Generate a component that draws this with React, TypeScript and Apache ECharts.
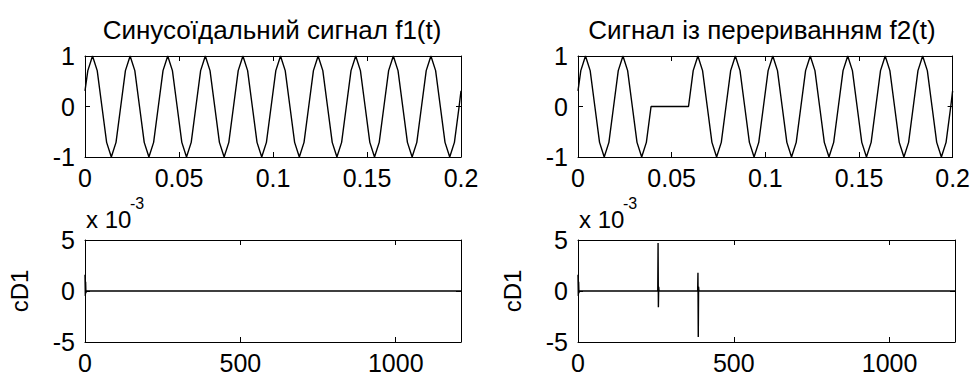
import React, { useEffect, useRef } from "react";
import * as echarts from "echarts";

// Time axis (s) of the two signals
const timeAxis = [
  0, 0.0015,
  0.004, 0.0065, 0.009, 0.0115, 0.014, 0.0165, 0.019, 0.0215,
  0.024, 0.0265, 0.029, 0.0315, 0.034, 0.0365, 0.039, 0.0415,
  0.044, 0.0465, 0.049, 0.0515, 0.054, 0.0565, 0.059, 0.0615,
  0.064, 0.0665, 0.069, 0.0715, 0.074, 0.0765, 0.079, 0.0815,
  0.084, 0.0865, 0.089, 0.0915, 0.094, 0.0965, 0.099, 0.1015,
  0.104, 0.1065, 0.109, 0.1115, 0.114, 0.1165, 0.119, 0.1215,
  0.124, 0.1265, 0.129, 0.1315, 0.134, 0.1365, 0.139, 0.1415,
  0.144, 0.1465, 0.149, 0.1515, 0.154, 0.1565, 0.159, 0.1615,
  0.164, 0.1665, 0.169, 0.1715, 0.174, 0.1765, 0.179, 0.1815,
  0.184, 0.1865, 0.189, 0.1915, 0.194, 0.1965, 0.199, 0.2,
];

// f1(t): sinusoidal signal
const sineF1 = [
  0.31, 0.71,
  1, 0.71, 0, -0.71, -1, -0.71, 0, 0.71,
  1, 0.71, 0, -0.71, -1, -0.71, 0, 0.71,
  1, 0.71, 0, -0.71, -1, -0.71, 0, 0.71,
  1, 0.71, 0, -0.71, -1, -0.71, 0, 0.71,
  1, 0.71, 0, -0.71, -1, -0.71, 0, 0.71,
  1, 0.71, 0, -0.71, -1, -0.71, 0, 0.71,
  1, 0.71, 0, -0.71, -1, -0.71, 0, 0.71,
  1, 0.71, 0, -0.71, -1, -0.71, 0, 0.71,
  1, 0.71, 0, -0.71, -1, -0.71, 0, 0.71,
  1, 0.71, 0, -0.71, -1, -0.71, 0, 0.31,
];

// f2(t): signal with an interruption (flat between ~0.04 and ~0.06 s)
const breakF2 = [
  0.31, 0.71,
  1, 0.71, 0, -0.71, -1, -0.71, 0, 0.71,
  1, 0.71, 0, -0.71, -1, -0.71, 0, 0,
  0, 0, 0, 0, 0, 0, 0, 0.71,
  1, 0.71, 0, -0.71, -1, -0.71, 0, 0.71,
  1, 0.71, 0, -0.71, -1, -0.71, 0, 0.71,
  1, 0.71, 0, -0.71, -1, -0.71, 0, 0.71,
  1, 0.71, 0, -0.71, -1, -0.71, 0, 0.71,
  1, 0.71, 0, -0.71, -1, -0.71, 0, 0.71,
  1, 0.71, 0, -0.71, -1, -0.71, 0, 0.71,
  1, 0.71, 0, -0.71, -1, -0.71, 0, 0.31,
];

// Detail coefficients cD1 (index, value)
const cd1F1Index = [0, 1, 2, 3, 4, 1210];
const cd1F1Values = [0.0016, -0.0005, 0.0009, -0.0002, 0, 0];
const cd1F2Index = [0, 1, 2, 3, 4, 256, 257, 258, 259, 260, 384, 385, 386, 387, 388, 1210];
const cd1F2Values = [
  0.0016, -0.0005, 0.0009, -0.0002, 0,
  0, 0.0047, -0.0016, 0.0004, 0,
  0, 0.0018, -0.0045, 0.0004, 0,
  0,
];

const titles = ["Синусоїдальний сигнал f1(t)", "Сигнал із перериванням f2(t)"];
const yName = "cD1";
const scaleBase = "x 10";
const scaleExp = "-3";

export default function App() {
  const ref = useRef<HTMLDivElement>(null);

  useEffect(() => {
    if (!ref.current) return;
    const chart = echarts.init(ref.current, null, { renderer: "svg" });
    const FONT = "'Liberation Sans', Arial, sans-serif";
    const grids = [
      { left: 85, top: 56, width: 376, height: 101 },
      { left: 578, top: 56, width: 377, height: 101 },
      { left: 85, top: 240, width: 376, height: 103 },
      { left: 578, top: 240, width: 377, height: 103 },
    ];
    const lineStyle = { color: "#000", width: 1 };
    const tick = { show: true, inside: true, length: 5, lineStyle: { color: "#000", width: 1 } };
    const xAxes: any[] = [];
    const yAxes: any[] = [];
    grids.forEach((g, i) => {
      const isTop = i < 2;
      const xBase = isTop ? { min: 0, max: 0.2, interval: 0.05 } : { min: 0, max: 1210, interval: 500 };
      const yBase = isTop ? { min: -1, max: 1, interval: 1 } : { min: -0.005, max: 0.005, interval: 0.005 };
      xAxes.push({
        type: "value", gridIndex: i, position: "bottom", ...xBase,
        axisLine: { show: true, onZero: false, lineStyle },
        axisTick: tick, splitLine: { show: false },
        axisLabel: {
          fontSize: 25, color: "#000", fontFamily: FONT, margin: 8,
          showMaxLabel: isTop ? true : false, showMinLabel: true,
          formatter: (v: number) => String(v),
        },
      });
      xAxes.push({
        type: "value", gridIndex: i, position: "top", ...xBase,
        axisLine: { show: true, onZero: false, lineStyle },
        axisTick: tick, splitLine: { show: false }, axisLabel: { show: false },
      });
      yAxes.push({
        type: "value", gridIndex: i, position: "left", ...yBase,
        axisLine: { show: true, onZero: false, lineStyle },
        axisTick: tick, splitLine: { show: false },
        axisLabel: {
          fontSize: 25, color: "#000", fontFamily: FONT, margin: 10,
          showMinLabel: true, showMaxLabel: true,
          formatter: isTop ? (v: number) => String(v) : (v: number) => String(Math.round(v * 1000)),
        },
        name: isTop ? "" : yName,
        nameLocation: "middle", nameGap: 54, nameRotate: 90,
        nameTextStyle: { fontSize: 24, color: "#000", fontFamily: FONT },
      });
      yAxes.push({
        type: "value", gridIndex: i, position: "right", ...yBase,
        axisLine: { show: true, onZero: false, lineStyle },
        axisTick: tick, splitLine: { show: false }, axisLabel: { show: false },
      });
    });

    const seriesLine = { color: "#000", width: 1.4 };
    const mk = (xs: number[], ys: number[]) => xs.map((x, k) => [x, ys[k]]);
    const txt = (text: string, x: number, y: number, size: number, align: string) => ({
      type: "text", x, y, silent: true,
      style: {
        text, fill: "#000", fontSize: size, fontFamily: FONT,
        font: `${size}px ${FONT}`,
        align, textAlign: align, verticalAlign: "middle", textVerticalAlign: "middle",
      },
    });

    chart.setOption({
      animation: false,
      backgroundColor: "#fff",
      grid: grids.map((g) => ({ ...g, containLabel: false })),
      xAxis: xAxes,
      yAxis: yAxes,
      series: [
        { type: "line", xAxisIndex: 0, yAxisIndex: 0, data: mk(timeAxis, sineF1), showSymbol: false, lineStyle: seriesLine, silent: true },
        { type: "line", xAxisIndex: 2, yAxisIndex: 2, data: mk(timeAxis, breakF2), showSymbol: false, lineStyle: seriesLine, silent: true },
        { type: "line", xAxisIndex: 4, yAxisIndex: 4, data: mk(cd1F1Index, cd1F1Values), showSymbol: false, lineStyle: seriesLine, silent: true },
        { type: "line", xAxisIndex: 6, yAxisIndex: 6, data: mk(cd1F2Index, cd1F2Values), showSymbol: false, lineStyle: seriesLine, silent: true },
      ],
      graphic: [
        txt(titles[0], 272, 30, 26, "center"),
        txt(titles[1], 762, 30, 26, "center"),
        txt(scaleBase, 86, 219, 24, "left"),
        txt(scaleExp, 130, 203, 16, "left"),
        txt(scaleBase, 579, 219, 24, "left"),
        txt(scaleExp, 623, 203, 16, "left"),
      ],
    });
    return () => chart.dispose();
  }, []);

  return (
    <div
      ref={ref}
      style={{ position: "fixed", left: 0, top: 0, width: 973, height: 375, background: "#fff" }}
    />
  );
}
